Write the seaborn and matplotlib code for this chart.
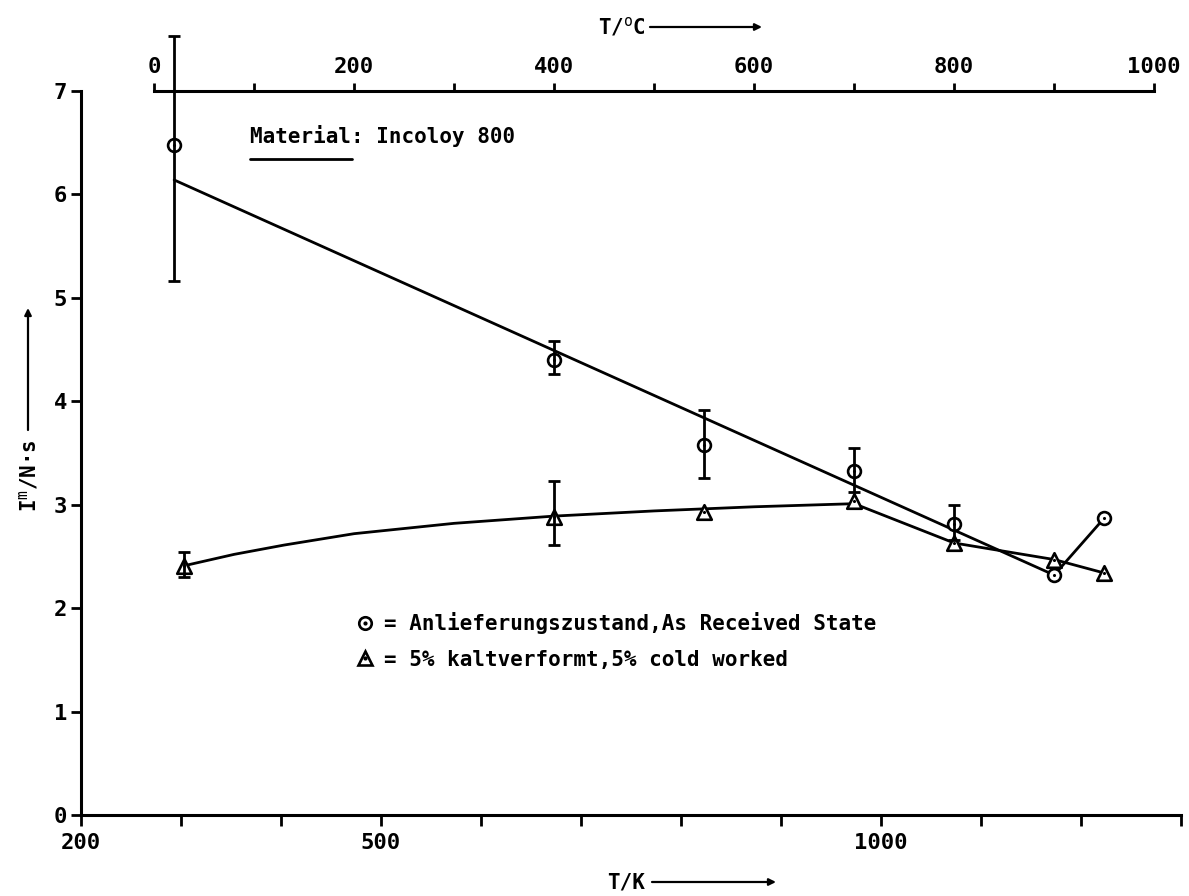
import numpy as np
import pandas as pd
import matplotlib
matplotlib.use("Agg")
import matplotlib.pyplot as plt
import seaborn as sns
from matplotlib.lines import Line2D
from matplotlib.legend_handler import HandlerTuple

# ---------------- data ----------------
# As received state (circles)
temp_received_C = [20, 400, 550, 700, 800, 900, 950]
impulse_received = [6.48, 4.40, 3.58, 3.33, 2.81, 2.32, 2.87]
err_low_received = [5.16, 4.26, 3.26, 3.12, 2.66, np.nan, np.nan]
err_high_received = [7.53, 4.58, 3.92, 3.55, 3.00, np.nan, np.nan]

# 5 % cold worked (triangles)
temp_cold_C = [30, 400, 550, 700, 800, 900, 950]
impulse_cold = [2.41, 2.88, 2.93, 3.04, 2.63, 2.47, 2.34]
err_low_cold = [2.30, 2.61, np.nan, np.nan, np.nan, np.nan, np.nan]
err_high_cold = [2.54, 3.23, np.nan, np.nan, np.nan, np.nan, np.nan]

# hand-drawn trend curves
curve_received_C = [20, 900, 950]
curve_received_I = [6.14, 2.32, 2.87]
curve_cold_C = [30, 80, 130, 200, 300, 400, 500, 600, 700, 800, 900, 950]
curve_cold_I = [2.41, 2.52, 2.61, 2.72, 2.82, 2.89, 2.94, 2.98, 3.01, 2.63, 2.47, 2.34]

# axes ticks / labels
top_ticks_C = [0, 100, 200, 300, 400, 500, 600, 700, 800, 900, 1000]
top_labels = ["0", "", "200", "", "400", "", "600", "", "800", "", "1000"]
bottom_ticks_K = [200, 300, 400, 500, 600, 700, 800, 900, 1000, 1100, 1200, 1300]
bottom_labels = ["200", "", "", "500", "", "", "", "", "1000", "", "", ""]
y_ticks = [0, 1, 2, 3, 4, 5, 6, 7]

legend_labels = ["= Anlieferungszustand,As Received State",
                 "= 5% kaltverformt,5% cold worked"]
material_text = "Material: Incoloy 800"

# ---------------- style ----------------
sns.set_theme(style="ticks")
plt.rcParams["font.family"] = ["DejaVu Sans Mono", "DejaVu Sans"]
plt.rcParams["mathtext.fontset"] = "custom"
plt.rcParams["mathtext.rm"] = "DejaVu Sans Mono"
plt.rcParams["axes.edgecolor"] = "black"
plt.rcParams["text.color"] = "black"
plt.rcParams["xtick.color"] = "black"
plt.rcParams["ytick.color"] = "black"
FS = 15
W, H = 1189, 896

fig = plt.figure(figsize=(W / 100, H / 100), dpi=100)
fig.patch.set_facecolor("white")
ax = fig.add_axes([81 / W, 1 - 815 / H, 1100 / W, (815 - 91) / H])
ax.set_facecolor("white")

K0 = 273.15
ax.set_xlim(200 - K0, 1300 - K0)
ax.set_ylim(0, 7)

# trend curves
df_rc = pd.DataFrame({"T": curve_received_C, "I": curve_received_I})
df_cc = pd.DataFrame({"T": curve_cold_C, "I": curve_cold_I})
sns.lineplot(data=df_rc, x="T", y="I", sort=False, estimator=None,
             color="black", lw=2.0, ax=ax, zorder=2)
sns.lineplot(data=df_cc, x="T", y="I", sort=False, estimator=None,
             color="black", lw=2.0, ax=ax, zorder=2)

# markers
df_r = pd.DataFrame({"T": temp_received_C, "I": impulse_received,
                     "lo": err_low_received, "hi": err_high_received})
df_c = pd.DataFrame({"T": temp_cold_C, "I": impulse_cold,
                     "lo": err_low_cold, "hi": err_high_cold})
sns.scatterplot(data=df_r, x="T", y="I", marker="o", s=85, facecolor="white",
                edgecolor="black", linewidth=1.9, ax=ax, zorder=3)
sns.scatterplot(data=df_c, x="T", y="I", marker="^", s=110, facecolor="white",
                edgecolor="black", linewidth=1.9, ax=ax, zorder=3)
# small centre dots
sns.scatterplot(data=df_r, x="T", y="I", marker="o", s=5, color="black",
                linewidth=0, ax=ax, zorder=5)
sns.scatterplot(data=df_c, x="T", y="I", marker="o", s=5, color="black",
                linewidth=0, ax=ax, zorder=5)

# error bars
for d in (df_r, df_c):
    e = d.dropna()
    ax.errorbar(e["T"], e["I"], yerr=[e["I"] - e["lo"], e["hi"] - e["I"]],
                fmt="none", ecolor="black", elinewidth=2.0, capsize=4.0,
                capthick=2.0, zorder=4, clip_on=False)

ax.set_xlabel("")
ax.set_ylabel("")

# spines
ax.spines["right"].set_visible(False)
ax.spines["bottom"].set_visible(False)
ax.spines["left"].set_linewidth(2.2)
ax.spines["top"].set_linewidth(2.2)
ax.spines["top"].set_bounds(0, 1000)

# top axis in degC (main x axis)
ax.xaxis.set_ticks_position("top")
ax.xaxis.set_label_position("top")
ax.set_xticks(top_ticks_C)
ax.set_xticklabels(top_labels)
ax.tick_params(axis="x", which="both", direction="out", length=6, width=2,
               labelsize=16, pad=4, colors="black")

# left axis
ax.set_yticks(y_ticks)
ax.set_yticklabels([str(v) for v in y_ticks])
ax.tick_params(axis="y", direction="out", length=7, width=2, labelsize=16,
               pad=3, colors="black")

# bottom axis in K
secax = ax.secondary_xaxis("bottom", functions=(lambda c: c + K0, lambda k: k - K0))
secax.set_xticks(bottom_ticks_K)
secax.set_xticklabels(bottom_labels)
secax.tick_params(axis="x", direction="out", length=8, width=2, labelsize=16,
                  pad=5, colors="black")
secax.spines["bottom"].set_linewidth(2.2)

for lab in ax.get_xticklabels() + ax.get_yticklabels() + secax.get_xticklabels():
    lab.set_fontweight("bold")

# ---------------- annotations ----------------
def fx(px):
    return px / W

def fy(py):
    return 1 - py / H

fig.text(fx(250), fy(136), material_text, ha="left", va="center",
         fontsize=FS, fontweight="bold", color="black")
fig.add_artist(Line2D([fx(250), fx(352)], [fy(159), fy(159)], lw=2.0,
                      color="black"))

arrow_kw = dict(arrowstyle="-|>", color="black", lw=1.6, mutation_scale=10,
                shrinkA=0, shrinkB=0)
fig.text(fx(598), fy(27), r"T/$^{\mathrm{o}}$C", ha="left", va="center",
         fontsize=FS, fontweight="bold", color="black")
fig.add_artist(matplotlib.patches.FancyArrowPatch((fx(650), fy(27)), (fx(762), fy(27)),
               transform=fig.transFigure, **arrow_kw))
fig.text(fx(607), fy(882), "T/K", ha="left", va="center",
         fontsize=FS, fontweight="bold", color="black")
fig.add_artist(matplotlib.patches.FancyArrowPatch((fx(652), fy(882)), (fx(776), fy(882)),
               transform=fig.transFigure, **arrow_kw))
fig.text(fx(28), fy(476), r"I$^{\mathrm{m}}$/N·s", ha="center", va="center",
         rotation=90, fontsize=FS, fontweight="bold", color="black")
fig.add_artist(matplotlib.patches.FancyArrowPatch((fx(28), fy(430)), (fx(28), fy(308)),
               transform=fig.transFigure, **arrow_kw))

# legend
h_circ = (Line2D([], [], ls="none", marker="o", ms=9, mfc="white", mec="black", mew=1.9),
          Line2D([], [], ls="none", marker="o", ms=2, mfc="black", mec="black"))
h_tri = (Line2D([], [], ls="none", marker="^", ms=10, mfc="white", mec="black", mew=1.9),
         Line2D([], [], ls="none", marker="o", ms=2, mfc="black", mec="black"))
leg = fig.legend([h_circ, h_tri], legend_labels, loc="upper left",
                 bbox_to_anchor=(fx(355), fy(612)), bbox_transform=fig.transFigure,
                 frameon=False, handlelength=1.0, handletextpad=0.4,
                 labelspacing=0.75, borderpad=0, borderaxespad=0,
                 prop={"size": FS, "weight": "bold"},
                 handler_map={tuple: HandlerTuple(ndivide=1, pad=0)})
for t in leg.get_texts():
    t.set_color("black")

fig.savefig("out.png", dpi=100, facecolor="white")
